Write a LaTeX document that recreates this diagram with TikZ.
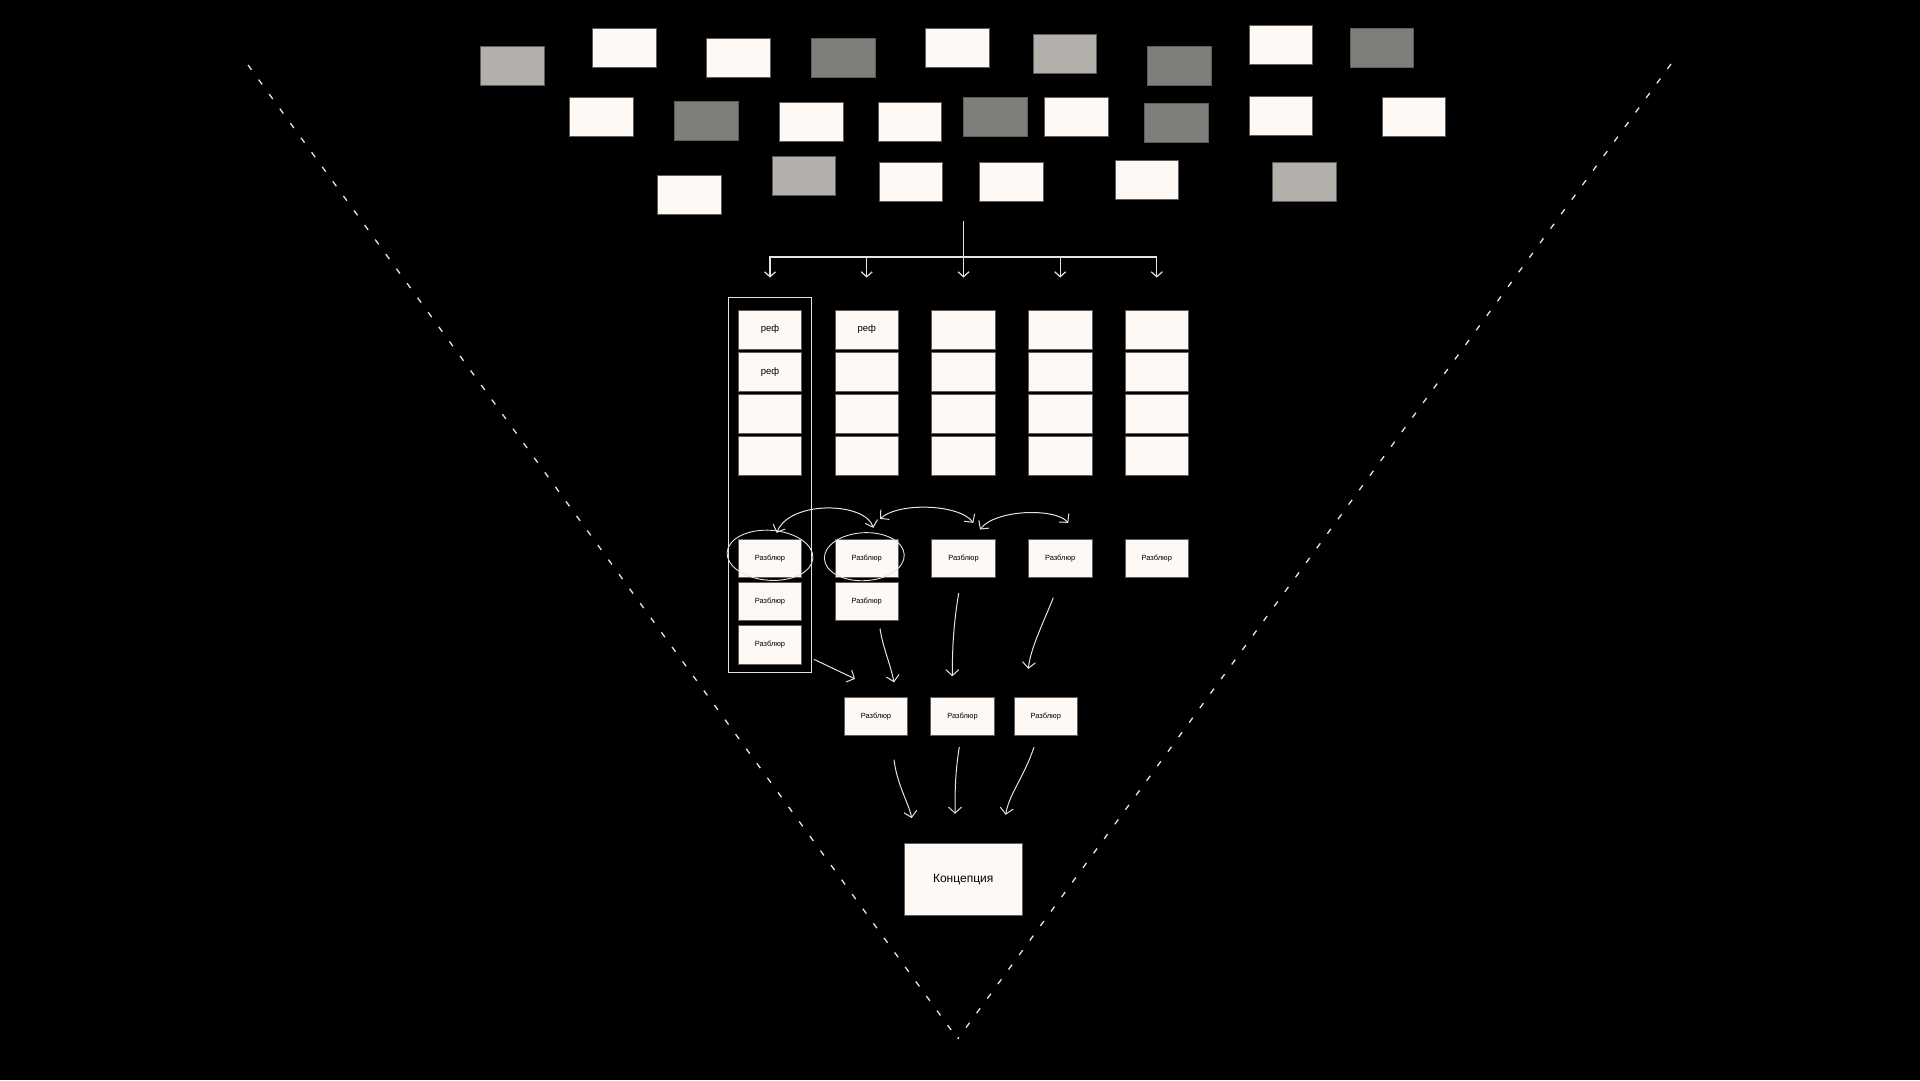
\documentclass[tikz,border=0pt]{standalone}
\usepackage{fontspec}
\setmainfont{Liberation Sans}
\usepackage{xcolor}
\usepackage{tikz}
\usetikzlibrary{shapes.geometric, arrows.meta, positioning}
\definecolor{paper}{HTML}{FFF9F5}
\definecolor{greyA}{HTML}{B3AFAB}
\definecolor{greyB}{HTML}{7F7E7B}
\definecolor{edge}{HTML}{5E5C5A}
\definecolor{ink}{HTML}{E4E4E4}
\tikzstyle{card} = [rectangle, draw=edge, line width=0.8pt, fill=paper, minimum width=63.5pt, minimum height=39pt, inner sep=0pt, text=black]
\tikzstyle{palecard} = [card, fill=greyA]
\tikzstyle{dimcard} = [card, fill=greyB]
\tikzstyle{refcard} = [card, font=\fontsize{9.5}{11}\selectfont]
\tikzstyle{dish} = [card, minimum height=38.5pt, font=\fontsize{7.5}{9}\selectfont]
\tikzstyle{frame} = [rectangle, draw=ink, line width=1.2pt, inner sep=0pt]
\tikzstyle{ring} = [ellipse, draw=ink, line width=0.9pt, inner sep=0pt]
\tikzstyle{arrow} = [draw=ink, line width=1.2pt, -{Straight Barb[length=5pt,width=11pt]}]
\tikzstyle{sketch} = [draw=ink, line width=1pt, -{Straight Barb[length=6pt,width=13pt]}]
\tikzstyle{twoway} = [sketch, {Straight Barb[length=6pt,width=13pt]}-{Straight Barb[length=6pt,width=13pt]}]
\tikzstyle{guide} = [draw=ink, line width=1.3pt, dash pattern=on 6pt off 12pt]

\begin{document}
\begin{tikzpicture}[x=1pt, y=1pt]
\useasboundingbox (0,0) rectangle (1920,1080);
\fill[black] (0,0) rectangle (1920,1080);

% funnel
\coordinate (vl) at (248,1015);
\coordinate (vtip) at (957.7,41);
\coordinate (vr) at (1671,1016);
\draw [guide] (vl) -- (vtip);
\draw [guide] (vr) -- (vtip);

% pile of material
\node (p1) [palecard] at (512.3,1014.3) {};
\node (p2) [card] at (624.3,1032.3) {};
\node (p3) [card] at (738.3,1021.8) {};
\node (p4) [dimcard] at (843.3,1022.3) {};
\node (p5) [card] at (957.3,1032.3) {};
\node (p6) [palecard] at (1064.8,1025.8) {};
\node (p7) [dimcard] at (1179.3,1014.3) {};
\node (p8) [card] at (1280.8,1034.8) {};
\node (p9) [dimcard] at (1381.8,1032.3) {};
\node (p10) [card] at (601.3,962.8) {};
\node (p11) [dimcard] at (706.3,959.3) {};
\node (p12) [card] at (811.3,957.7) {};
\node (p13) [card] at (910,957.7) {};
\node (p14) [dimcard] at (995.3,963.3) {};
\node (p15) [card] at (1076.2,962.7) {};
\node (p16) [dimcard] at (1176.3,957.3) {};
\node (p17) [card] at (1280.8,963.8) {};
\node (p18) [card] at (1413.8,962.8) {};
\node (p19) [card] at (689.3,884.8) {};
\node (p20) [palecard] at (803.8,903.7) {};
\node (p21) [card] at (910.8,898.2) {};
\node (p22) [card] at (1011.3,898.3) {};
\node (p23) [card] at (1146.8,900.3) {};
\node (p24) [palecard] at (1304.3,898.3) {};

% sorted columns
\node (a1) [refcard] at (770,750.5) {реф};
\node (a2) [refcard, below=2.3pt of a1] {реф};
\node (a3) [card, below=2.3pt of a2] {};
\node (a4) [card, below=2.3pt of a3] {};
\node (b1) [refcard] at (866.7,750.5) {реф};
\node (b2) [card, below=2.3pt of b1] {};
\node (b3) [card, below=2.3pt of b2] {};
\node (b4) [card, below=2.3pt of b3] {};
\node (c1) [card] at (963.5,750.5) {};
\node (c2) [card, below=2.3pt of c1] {};
\node (c3) [card, below=2.3pt of c2] {};
\node (c4) [card, below=2.3pt of c3] {};
\node (d1) [card] at (1060.2,750.5) {};
\node (d2) [card, below=2.3pt of d1] {};
\node (d3) [card, below=2.3pt of d2] {};
\node (d4) [card, below=2.3pt of d3] {};
\node (e1) [card] at (1156.8,750.5) {};
\node (e2) [card, below=2.3pt of e1] {};
\node (e3) [card, below=2.3pt of e2] {};
\node (e4) [card, below=2.3pt of e3] {};

% breakdowns
\node (za1) [dish] at (770,521.5) {Разблюр};
\node (za2) [dish, below=3.8pt of za1] {Разблюр};
\node (za3) [dish, below=3.8pt of za2] {Разблюр};
\node (zb1) [dish] at (866.7,521.5) {Разблюр};
\node (zb2) [dish, below=3.8pt of zb1] {Разблюр};
\node (zc1) [dish] at (963.5,521.5) {Разблюр};
\node (zd1) [dish] at (1060.2,521.5) {Разблюр};
\node (ze1) [dish] at (1156.8,521.5) {Разблюр};
\node (group) [frame, minimum width=83pt, minimum height=375.4pt] at (769.8,595) {};
\node (ring1) [ring, minimum width=86pt, minimum height=50pt, rotate=-4] at ([yshift=3.2pt]za1.center) {};
\node (ring2) [ring, minimum width=80pt, minimum height=48pt, rotate=3] at ([xshift=-2.4pt,yshift=1.8pt]zb1.center) {};

\node (m1) [dish, minimum height=38pt] at (876,363.7) {Разблюр};
\node (m2) [dish, minimum height=38pt] at (962.5,363.7) {Разблюр};
\node (m3) [dish, minimum height=38pt] at (1045.8,363.7) {Разблюр};

\node (idea) [card, minimum width=118pt, minimum height=72pt, font=\fontsize{12}{14}\selectfont] at (963.2,200.5) {Концепция};

% split into columns
\coordinate (split) at (963.3,859);
\coordinate (fan) at (963.3,823);
\draw [draw=ink, line width=1.2pt] (split) -- (fan);
\foreach \col in {a1, b1, c1, d1, e1}
  \draw [arrow, shorten >=32pt] (fan) -| (\col.north);

% exchanges between breakdowns
\draw [twoway] ([xshift=6.7pt,yshift=6pt]za1.north) .. controls +(13,33) and +(-8,26) .. ([xshift=6.6pt,yshift=11pt]zb1.north);
\draw [twoway] ([xshift=13.3pt,yshift=20pt]zb1.north) .. controls +(20,17.3) and +(-13.3,18.3) .. ([xshift=9.8pt,yshift=16pt]zc1.north);
\draw [twoway] ([xshift=16.5pt,yshift=9.3pt]zc1.north) .. controls +(15,20) and +(-13.3,15.3) .. ([xshift=8.1pt,yshift=16pt]zd1.north);

% merging
\draw [sketch] ([xshift=2pt,yshift=14pt]group.south east) -- ([xshift=-21pt,yshift=18pt]m1.north);
\draw [sketch] ([xshift=13.3pt,yshift=-7.3pt]zb2.south) .. controls +(3,-20) and +(-4,20) .. ([xshift=18pt,yshift=14.6pt]m1.north);
\draw [sketch] ([xshift=-4.8pt,yshift=-15pt]zc1.south) .. controls +(-5,-30) and +(0,30) .. ([xshift=-10.2pt,yshift=20.6pt]m2.north);
\draw [sketch] ([xshift=-6.9pt,yshift=-19.6pt]zd1.south) .. controls +(-10,-25) and +(2,20) .. ([xshift=-17.5pt,yshift=28pt]m3.north);

\draw [sketch] ([xshift=18pt,yshift=-24pt]m1.south) .. controls +(3,-25) and +(-3,15) .. ([xshift=-51.5pt,yshift=25pt]idea.north);
\draw [sketch] ([xshift=-3.2pt,yshift=-11.4pt]m2.south) .. controls +(-4,-25) and +(0,25) .. ([xshift=-8.2pt,yshift=29.3pt]idea.north);
\draw [sketch] ([xshift=-11.8pt,yshift=-11.4pt]m3.south) .. controls +(-10,-30) and +(3,20) .. ([xshift=42.5pt,yshift=28.3pt]idea.north);
\end{tikzpicture}
\end{document}
